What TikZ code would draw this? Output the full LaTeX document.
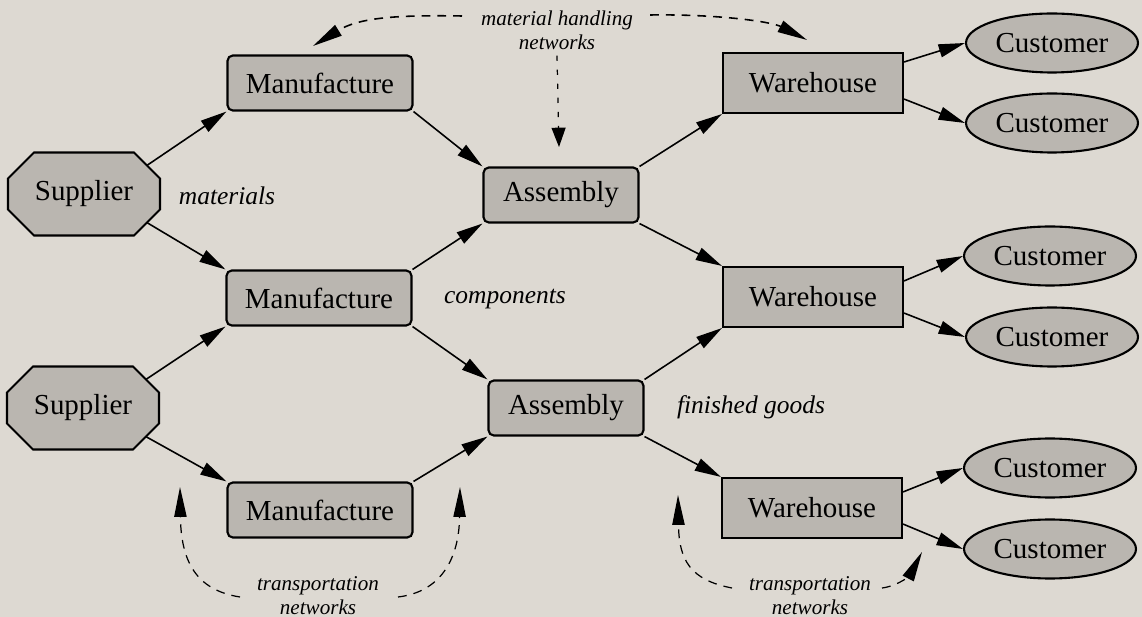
\documentclass[tikz,border=0pt]{standalone}
\usepackage{fontspec}
\setmainfont{Liberation Serif}
\usepackage{xcolor}
\usepackage{tikz}
\usetikzlibrary{shapes.geometric,arrows.meta}

\definecolor{paper}{RGB}{221,217,210}
\definecolor{shade}{RGB}{186,182,176}

\begin{document}
\begin{tikzpicture}[x=0.02cm, y=-0.02cm,
    every node/.style={font=\fontsize{16.5}{18}\selectfont},
    box/.style={draw, line width=1.2pt, fill=shade, inner sep=0pt},
    supp/.style={rectangle, minimum width=3.04cm, minimum height=1.66cm, inner sep=0pt},
    make/.style={box, rectangle, rounded corners=3pt, minimum width=3.7cm, minimum height=1.1cm},
    asm/.style={make, minimum width=3.1cm},
    store/.style={box, rectangle, minimum width=3.6cm, minimum height=1.2cm},
    cust/.style={box, ellipse, minimum width=3.44cm, minimum height=1.18cm},
    lbl/.style={font=\fontsize{14.5}{17}\selectfont\itshape},
    net/.style={font=\fontsize{12}{13.6}\selectfont\itshape, align=center},
    flow/.style={-{Triangle[length=15pt,width=7.5pt]}, line width=0.9pt},
    link/.style={-{Triangle[length=17pt,width=7pt]}, line width=0.7pt, dash pattern=on 5pt off 4pt}]

    \path[use as bounding box, fill=paper] (0,0) rectangle (1142,617);

    % Suppliers (octagon outline, then the label on top)
    \draw[box] (34,152.5) -- ++(100,0) -- ++(26,26) -- ++(0,31) -- ++(-26,26)
        -- ++(-100,0) -- ++(-26,-26) -- ++(0,-31) -- cycle;
    \draw[box] (33,366.5) -- ++(100,0) -- ++(26,26) -- ++(0,31) -- ++(-26,26)
        -- ++(-100,0) -- ++(-26,-26) -- ++(0,-31) -- cycle;
    \node[supp] (s1) at (84,194) {Supplier};
    \node[supp] (s2) at (83,408) {Supplier};

    % Manufacturing
    \node[make] (m1) at (320,83) {Manufacture};
    \node[make] (m2) at (319,298) {Manufacture};
    \node[make] (m3) at (320,510) {Manufacture};

    % Assembly
    \node[asm] (a1) at (561,195) {Assembly};
    \node[asm] (a2) at (566,408) {Assembly};

    % Warehouses
    \node[store] (w1) at (813,83) {Warehouse};
    \node[store] (w2) at (813,297) {Warehouse};
    \node[store] (w3) at (812,508) {Warehouse};

    % Customers
    \node[cust] (c1) at (1052,43) {Customer};
    \node[cust] (c2) at (1052,123) {Customer};
    \node[cust] (c3) at (1050,256) {Customer};
    \node[cust] (c4) at (1052,337) {Customer};
    \node[cust] (c5) at (1050,468) {Customer};
    \node[cust] (c6) at (1050,549) {Customer};

    % Flow labels
    \node[lbl] (mat) at (227,196) {materials};
    \node[lbl] (comp) at (505,299) {components};
    \node[lbl] (fin) at (751,407) {finished goods};

    % Network labels
    \node[net] (mh) at (557,30) {material handling\\networks};
    \node[net] (tl) at (318,596) {transportation\\networks};
    \node[net] (tr) at (810,596) {transportation\\networks};

    % Material flow
    \draw[flow] ([shift={(-13,13)}]s1.north east) -- (m1.south west);
    \draw[flow] ([shift={(-13,-13)}]s1.south east) -- (m2.north west);
    \draw[flow] ([shift={(-13,13)}]s2.north east) -- (m2.south west);
    \draw[flow] ([shift={(-13,-13)}]s2.south east) -- (m3.north west);
    \draw[flow] (m1.south east) -- (a1.north west);
    \draw[flow] (m2.north east) -- (a1.south west);
    \draw[flow] (m2.south east) -- (a2.north west);
    \draw[flow] (m3.north east) -- (a2.south west);
    \draw[flow] (a1.north east) -- (w1.south west);
    \draw[flow] (a1.south east) -- (w2.north west);
    \draw[flow] (a2.north east) -- (w2.south west);
    \draw[flow] (a2.south east) -- (w3.north west);
    \draw[flow] (w1.13) -- (c1.west);
    \draw[flow] (w1.-10) -- (c2.west);
    \draw[flow] (w2.10) -- (c3.west);
    \draw[flow] (w2.-10) -- (c4.west);
    \draw[flow] (w3.10) -- (c5.west);
    \draw[flow] (w3.-10) -- (c6.west);

    % Material handling arrows
    \coordinate (mhL) at (462,16);
    \coordinate (mhR) at (650,15);
    \coordinate (toM) at (313,46);
    \coordinate (toW) at (807,40);
    \coordinate (toA) at (559,147);
    \draw[link, line width=0.9pt] (mhL) .. controls (400,15) and (360,17) .. (toM);
    \draw[link, line width=0.9pt] (mhR) .. controls (720,14) and (772,22) .. (toW);
    \draw[link, -{Triangle[length=11pt,width=8pt]}, dash pattern=on 3pt off 5pt] (mh.south) -- (toA);

    % Transportation arrows
    \coordinate (tl1) at (240,597);
    \coordinate (tl2) at (398,597);
    \coordinate (tr1) at (732,588);
    \coordinate (tr2) at (882,588);
    \coordinate (upL) at (180,487);
    \coordinate (upM) at (460,487);
    \coordinate (upR) at (678,495);
    \coordinate (upC) at (922,552);
    \draw[link] (tl1) .. controls (195,590) and (181,560) .. (upL);
    \draw[link] (tl2) .. controls (440,592) and (459,560) .. (upM);
    \draw[link] (tr1) .. controls (690,580) and (679,560) .. (upR);
    \draw[link] (tr2) .. controls (898,586) and (910,575) .. (upC);
\end{tikzpicture}
\end{document}
